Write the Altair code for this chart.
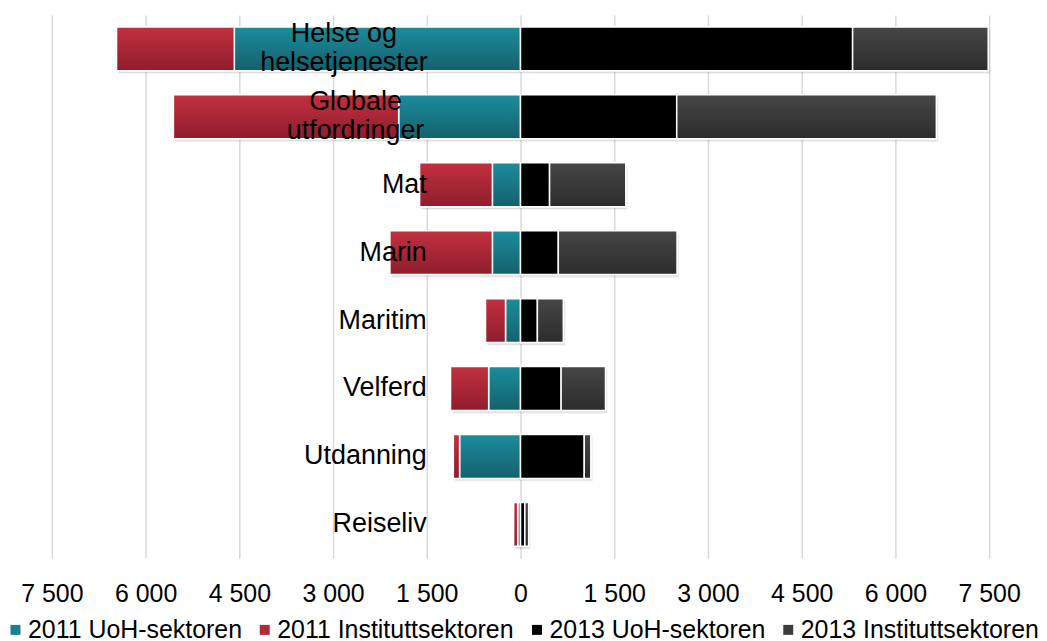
import altair as alt
import pandas as pd

categories = ["Helse og\nhelsetjenester", "Globale\nutfordringer", "Mat", "Marin",
              "Maritim", "Velferd", "Utdanning", "Reiseliv"]
series_names = ["2011 UoH-sektoren", "2011 Instituttsektoren",
                "2013 UoH-sektoren", "2013 Instituttsektoren"]
uoh_2011 = [4580, 1950, 450, 450, 240, 510, 975, 45]
inst_2011 = [1885, 3605, 1165, 1640, 320, 610, 100, 65]
uoh_2013 = [5315, 2500, 465, 605, 270, 650, 1020, 70]
inst_2013 = [2170, 4155, 1220, 1900, 415, 710, 105, 60]
tick_values = [-7500, -6000, -4500, -3000, -1500, 0, 1500, 3000, 4500, 6000, 7500]

solid_colors = ["#1a7f8e", "#b3293a", "#000000", "#3c3c3c"]
grad_top = ["#1c8c9c", "#c3303f", "#000000", "#464646"]
grad_bottom = ["#15606d", "#8e1d2c", "#000000", "#2c2c2c"]

signs = [-1, -1, 1, 1]
rows = []
for s_idx, (name, vals) in enumerate(zip(series_names, [uoh_2011, inst_2011, uoh_2013, inst_2013])):
    for c, v in zip(categories, vals):
        rows.append({"category": c, "series": name, "value": signs[s_idx] * v, "order": s_idx})
df = pd.DataFrame(rows)

labels_df = pd.DataFrame({"category": categories})
labels_df["nlines"] = [len(c.split("\n")) for c in categories]
labels_df["longest"] = [max(len(p) for p in c.split("\n")) for c in categories]

units_per_px = 15000 / 940

y_scale = alt.Scale(paddingInner=0.354, paddingOuter=0.177)
x_scale = alt.Scale(domain=[-7500, 7500], nice=False)
x_axis = alt.Axis(values=tick_values,
                  labelExpr="replace(format(abs(datum.value), ',d'), ',', ' ')",
                  grid=True, gridColor="#d9d9d9", gridWidth=1.5,
                  domain=False, ticks=False, labelFontSize=25,
                  labelFont="Liberation Sans", labelColor="black",
                  labelPadding=23.5, title=None, labelFlush=False)


def Y():
    return alt.Y("category:N", sort=categories, axis=None, scale=y_scale)


stacked = alt.Chart(df).transform_stack(
    stack="value", groupby=["category"], sort=[alt.SortField("order")],
    as_=["x0", "x1"], offset="zero")

enc = dict(x=alt.X("x0:Q", scale=x_scale, axis=x_axis), x2="x1:Q", y=Y())

shadow1 = stacked.mark_bar(color="#000000", opacity=0.07, xOffset=2, x2Offset=2,
                           yOffset=3, y2Offset=6).encode(**enc)
shadow2 = stacked.mark_bar(color="#000000", opacity=0.08, xOffset=1, x2Offset=1,
                           yOffset=2, y2Offset=3).encode(**enc)

base = stacked.mark_bar(stroke="white", strokeWidth=1.5).encode(
    color=alt.Color("series:N", sort=series_names,
                    scale=alt.Scale(domain=series_names, range=solid_colors),
                    legend=alt.Legend(title=None, orient="none", direction="horizontal",
                                      legendX=-49, legendY=604, symbolType="square",
                                      symbolSize=100, symbolStrokeWidth=0,
                                      labelFontSize=25, labelFont="Liberation Sans",
                                      labelColor="black", labelOffset=0,
                                      columnPadding=10, padding=0, labelLimit=400)),
    **enc)

grad_layers = []
for i, name in enumerate(series_names):
    g = {"gradient": "linear", "x1": 0, "y1": 0, "x2": 0, "y2": 1,
         "stops": [{"offset": 0, "color": grad_top[i]}, {"offset": 1, "color": grad_bottom[i]}]}
    grad_layers.append(
        stacked.transform_filter(alt.datum.series == name)
        .mark_bar(fill=g, stroke="white", strokeWidth=1.5)
        .encode(**enc))

txt_single = alt.Chart(labels_df).transform_filter("datum.nlines == 1").transform_calculate(
    xpos="-1500").mark_text(align="right", baseline="middle", fontSize=27,
                            font="Liberation Sans", color="black").encode(
    x=alt.X("xpos:Q", scale=x_scale, axis=x_axis), y=Y(), text="category:N")

txt_multi = alt.Chart(labels_df).transform_filter("datum.nlines > 1").transform_calculate(
    xpos=f"-1530 - datum.longest * 5.8 * {units_per_px}").mark_text(
    align="center", baseline="middle", fontSize=27, font="Liberation Sans",
    color="black", lineBreak="\n", lineHeight=29, dy=-14.5).encode(
    x=alt.X("xpos:Q", scale=x_scale, axis=x_axis), y=Y(), text="category:N")

chart = alt.layer(shadow1, shadow2, base, *grad_layers, txt_single, txt_multi).properties(
    width=940, height=545,
    padding={"left": 44, "top": 6, "right": 50, "bottom": 90},
    autosize=alt.AutoSizeParams(type="none"),
    background="white",
).configure_view(stroke=None)

chart.save("out.html", embed_options={"renderer": "svg", "actions": False})
